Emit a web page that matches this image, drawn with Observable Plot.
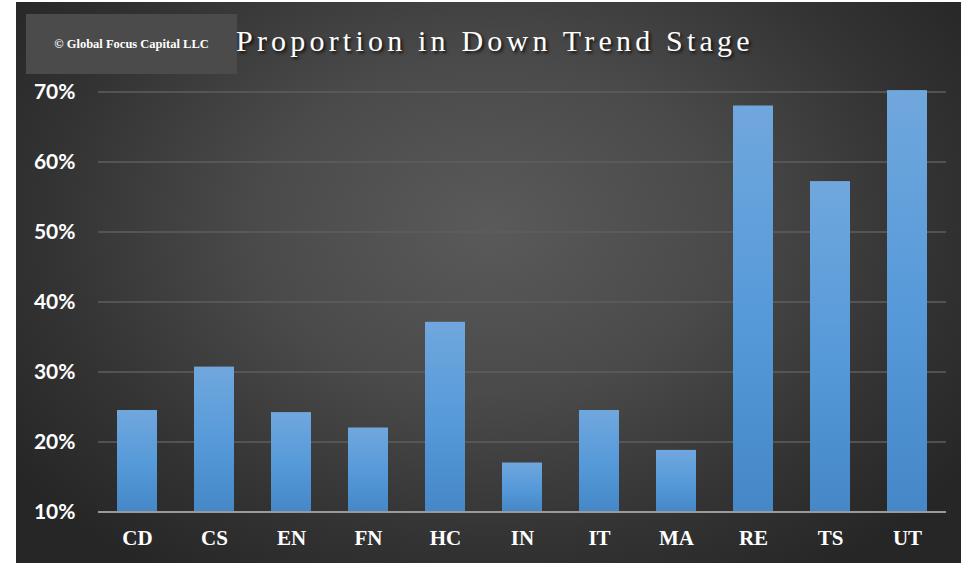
<!DOCTYPE html>
<html>
<head>
<meta charset="utf-8">
<script src="https://cdn.jsdelivr.net/npm/d3@7"></script>
<script src="https://cdn.jsdelivr.net/npm/@observablehq/plot@0.6"></script>
<style>
  html, body { margin: 0; padding: 0; background: #ffffff; }
  #wrap { position: relative; width: 961px; height: 563px; overflow: hidden; }
  #panel {
    position: absolute; left: 16px; top: 2px; width: 945px; height: 561px;
    background: radial-gradient(ellipse 62% 75% at 50% 40%, #5a5a5a 0%, #4a4a4a 40%, #333333 75%, #262626 100%);
  }
  #logo {
    position: absolute; left: 26px; top: 14px; width: 211px; height: 60px;
    background: #4b4b4b; color: #ffffff;
    font-family: "Liberation Serif", serif; font-weight: bold; font-size: 12.5px;
    display: flex; align-items: center; justify-content: center;
  }
  #title {
    position: absolute; left: 236px; top: 24px; width: 560px;
    color: #ffffff; font-family: "Liberation Serif", serif; font-size: 30px;
    letter-spacing: 4.2px; white-space: nowrap;
    text-shadow: 2px 2px 3px rgba(0,0,0,0.75);
  }
  #chart { position: absolute; left: 0; top: 0; }
</style>
</head>
<body>
<div id="wrap">
  <div id="panel"></div>
  <div id="chart"></div>
  <div id="logo">© Global Focus Capital LLC</div>
  <div id="title">Proportion in Down Trend Stage</div>
</div>
<script>
const categories = ["CD", "CS", "EN", "FN", "HC", "IN", "IT", "MA", "RE", "TS", "UT"];
const values = [0.245, 0.307, 0.242, 0.220, 0.371, 0.170, 0.245, 0.188, 0.680, 0.572, 0.702];
const yTicks = [0.1, 0.2, 0.3, 0.4, 0.5, 0.6, 0.7];

const data = categories.map((c, i) => ({ cat: c, value: values[i] }));

const chart = Plot.plot({
  width: 961,
  height: 563,
  marginLeft: 98,
  marginRight: 15,
  marginTop: 91.5,
  marginBottom: 51.5,
  style: { background: "transparent", overflow: "visible" },
  x: { domain: categories, paddingInner: 0.48, paddingOuter: 0.24, label: null },
  y: { domain: [0.1, 0.7], label: null },
  marks: [
    Plot.ruleY(yTicks.filter(d => d > 0.1), { stroke: "#5e5e5e", strokeWidth: 1.5 }),
    Plot.barY(data, {
      x: "cat", y1: 0.1, y2: "value",
      fill: "url(#barGrad)",
      style: "filter: drop-shadow(3px 2px 3px rgba(0,0,0,0.55));"
    }),
    Plot.ruleY([0.1], { stroke: "#9a9a9a", strokeWidth: 2 }),
    Plot.axisY(yTicks, {
      tickFormat: d3.format(".0%"), tickSize: 0, tickPadding: 23,
      fill: "#ffffff", fontSize: 21, fontWeight: "bold", fontFamily: "Lato, sans-serif", label: null
    }),
    Plot.axisX({
      tickSize: 0, tickPadding: 18, fill: "#ffffff", fontSize: 21, fontWeight: "bold",
      fontFamily: "'Liberation Serif', serif", label: null
    })
  ]
});

const ns = "http://www.w3.org/2000/svg";
const defs = document.createElementNS(ns, "defs");
defs.innerHTML = `<linearGradient id="barGrad" x1="0" y1="0" x2="0" y2="1">
  <stop offset="0%" stop-color="#70a7dd"/>
  <stop offset="55%" stop-color="#5599d9"/>
  <stop offset="100%" stop-color="#4587c7"/>
</linearGradient>`;
chart.insertBefore(defs, chart.firstChild);
document.getElementById("chart").appendChild(chart);
</script>
</body>
</html>
